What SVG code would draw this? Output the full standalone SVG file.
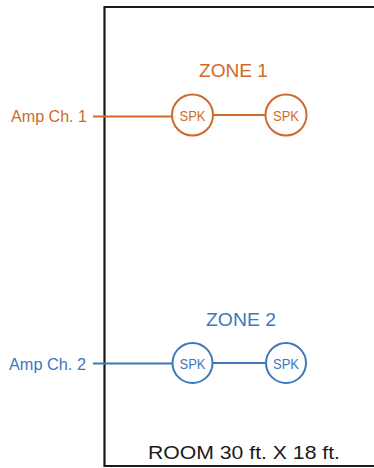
<svg xmlns="http://www.w3.org/2000/svg" width="374" height="468" viewBox="0 0 374 468">
<style>
text{font-family:"Liberation Sans",Arial,sans-serif}
.o{fill:#d06a2a}
.b{fill:#3b78bc}
.oc{fill:#fff;stroke:#d06a2a;stroke-width:2}
.bc{fill:#fff;stroke:#3b78bc;stroke-width:2}
.ol{stroke:#d06a2a;stroke-width:2;fill:none}
.bl{stroke:#3b78bc;stroke-width:2;fill:none}
.spk{font-size:15px;text-anchor:middle}
.zone{font-size:18.5px;text-anchor:middle}
.amp{font-size:16px}
</style>
<rect width="374" height="468" fill="#fff"/>
<g id="room">
<path d="M376 7 H104.5 V466 H376" fill="none" stroke="#1a1a1a" stroke-width="2.2"/>
<text x="244" y="459" font-size="19" text-anchor="middle" textLength="192" lengthAdjust="spacingAndGlyphs" fill="#1a1a1a">ROOM 30 ft. X 18 ft.</text>
</g>
<g id="connectors">
<path class="ol" d="M93 116.5 H172"/>
<path class="ol" d="M213 115 H266"/>
<path class="bl" d="M93 363.5 H172"/>
<path class="bl" d="M213 363 H266"/>
</g>
<g id="zone1-label"><text class="zone o" x="233.5" y="77" textLength="69" lengthAdjust="spacingAndGlyphs">ZONE 1</text></g>
<g id="amp1"><text class="amp o" x="11" y="122" textLength="76" lengthAdjust="spacingAndGlyphs">Amp Ch. 1</text></g>
<g id="spk1a"><circle class="oc" cx="192.5" cy="115" r="20.5"/><text class="spk o" x="192.5" y="120.5" textLength="26" lengthAdjust="spacingAndGlyphs">SPK</text></g>
<g id="spk1b"><circle class="oc" cx="286" cy="115" r="20.5"/><text class="spk o" x="286" y="120.5" textLength="26" lengthAdjust="spacingAndGlyphs">SPK</text></g>
<g id="zone2-label"><text class="zone b" x="241" y="326" textLength="70" lengthAdjust="spacingAndGlyphs">ZONE 2</text></g>
<g id="amp2"><text class="amp b" x="9" y="370" textLength="77" lengthAdjust="spacingAndGlyphs">Amp Ch. 2</text></g>
<g id="spk2a"><circle class="bc" cx="192.5" cy="363" r="20"/><text class="spk b" x="192.5" y="368.5" textLength="26" lengthAdjust="spacingAndGlyphs">SPK</text></g>
<g id="spk2b"><circle class="bc" cx="286" cy="363" r="20"/><text class="spk b" x="286" y="368.5" textLength="26" lengthAdjust="spacingAndGlyphs">SPK</text></g>
</svg>
